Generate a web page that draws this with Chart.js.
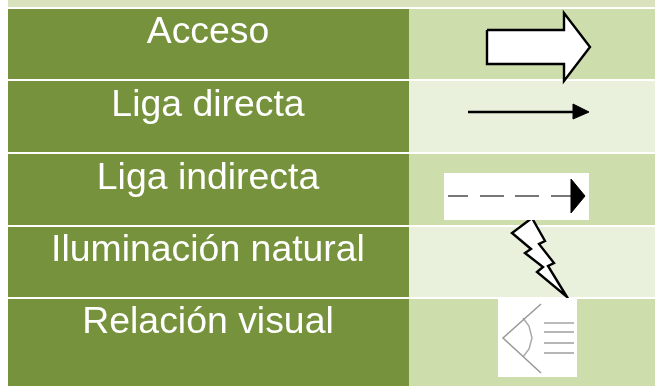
<!DOCTYPE html>
<html>
<head>
<meta charset="utf-8">
<style>
html, body { margin: 0; padding: 0; background: #fff; overflow: hidden; }
canvas { display: block; }
</style>
<script src="https://cdn.jsdelivr.net/npm/chart.js@4/dist/chart.umd.js"></script>
</head>
<body>
<canvas id="leyenda" width="655" height="386"></canvas>
<script>
// filas de la tabla (la primera es la franja cortada de arriba)
const rowLabels = ['', 'Acceso', 'Liga directa', 'Liga indirecta', 'Iluminación natural', 'Relación visual'];
const rowTops = [0, 9, 81, 154, 227, 299];
const rowBottoms = [7, 79, 152, 225, 297, 386];
const labelBaselines = [0, 43, 116, 189, 261, 333];

// símbolos
const bigArrow = [[487, 30], [564, 30], [564, 13], [590, 47], [564, 81], [564, 64], [487, 64], [487, 30]];
const thinArrowLine = [[468, 112], [575, 112]];
const thinArrowHead = [[573, 104], [589, 112], [573, 119], [573, 104]];
const dashes = [
    [[448, 196], [468, 196]],
    [[480, 196], [504, 196]],
    [[515, 196], [539, 196]],
    [[551, 196], [572, 196]]
];
const dashedArrowHead = [[571, 179], [585, 196], [571, 213], [571, 179]];
const bolt = [[532, 218], [545, 241], [539, 244], [554, 263], [548, 266], [567, 297],
    [537, 272], [543, 267], [525, 253], [531, 249], [512, 233], [532, 218]];
const eyeLids = [[541, 304], [503, 338], [541, 373]];
const eyeArc = [[523, 318], [529, 326], [532, 338], [529, 349], [523, 357]];
const eyeRays = [
    [[544, 323], [574, 323]],
    [[544, 332], [574, 332]],
    [[544, 343], [574, 343]],
    [[544, 353], [574, 353]]
];

const GREEN = '#76923c';
const LIGHT_ROW = ['#d8e3bd', '#cdddac', '#e9f0dc', '#cdddac', '#e9f0dc', '#cdddac'];

function cells(left, right) {
    return rowLabels.map((_, i) => ({ x: (left + right) / 2, y: [rowTops[i], rowBottoms[i]] }));
}

function points(list) {
    return list.map(p => ({ x: p[0], y: p[1] }));
}

function shape(list, fillColor, order, borderWidth) {
    return {
        type: 'scatter',
        data: points(list),
        showLine: true,
        tension: 0,
        pointRadius: 0,
        fill: fillColor ? 'shape' : false,
        backgroundColor: fillColor || 'transparent',
        borderColor: '#000',
        borderWidth: borderWidth === undefined ? 2.4 : borderWidth,
        borderJoinStyle: 'miter',
        order: order
    };
}

function stroke(list, color, width) {
    return Object.assign(shape(list, null, 1, width), { borderColor: color });
}

function whiteBox(left, right, top, bottom) {
    return {
        type: 'bar',
        data: [{ x: (left + right) / 2, y: [top, bottom] }],
        backgroundColor: '#fff',
        barThickness: right - left,
        grouped: false,
        inflateAmount: 0,
        order: 5
    };
}

const rowLabelsPlugin = {
    id: 'rowLabels',
    afterDatasetsDraw(chart) {
        const ctx = chart.ctx;
        ctx.save();
        ctx.font = '37.4px "Liberation Sans", Arial, sans-serif';
        ctx.textAlign = 'center';
        ctx.textBaseline = 'alphabetic';
        ctx.fillStyle = '#fff';
        rowLabels.forEach((text, i) => {
            if (text) {
                ctx.fillText(text, chart.scales.x.getPixelForValue(208), chart.scales.y.getPixelForValue(labelBaselines[i]));
            }
        });
        ctx.restore();
    }
};

new Chart(document.getElementById('leyenda').getContext('2d'), {
    data: {
        datasets: [
            {
                type: 'bar',
                data: cells(8, 409),
                backgroundColor: rowLabels.map((_, i) => i === 0 ? LIGHT_ROW[0] : GREEN),
                barThickness: 401,
                grouped: false,
                inflateAmount: 0,
                order: 10
            },
            {
                type: 'bar',
                data: cells(409, 655),
                backgroundColor: LIGHT_ROW,
                barThickness: 246,
                grouped: false,
                inflateAmount: 0,
                order: 10
            },
            shape(bolt, '#fff', 6),
            whiteBox(444, 589, 173, 220),
            whiteBox(498, 577, 298, 377),
            shape(bigArrow, '#fff', 1),
            shape(thinArrowLine, null, 1),
            shape(thinArrowHead, '#000', 1, 1),
            shape(dashedArrowHead, '#000', 1, 1),
            ...dashes.map(d => stroke(d, '#777', 2)),
            stroke(eyeLids, '#999', 1.5),
            stroke(eyeArc, '#aaa', 1.5),
            ...eyeRays.map((r, i) => stroke(r, i === 0 ? '#bbb' : '#888', i === 0 ? 2 : 1.2))
        ]
    },
    options: {
        responsive: false,
        animation: false,
        layout: { padding: 0 },
        plugins: { legend: { display: false }, tooltip: { enabled: false } },
        scales: {
            x: { type: 'linear', min: 0, max: 655, offset: false, display: false },
            y: { type: 'linear', min: 0, max: 386, reverse: true, display: false }
        }
    },
    plugins: [rowLabelsPlugin]
});
</script>
</body>
</html>
